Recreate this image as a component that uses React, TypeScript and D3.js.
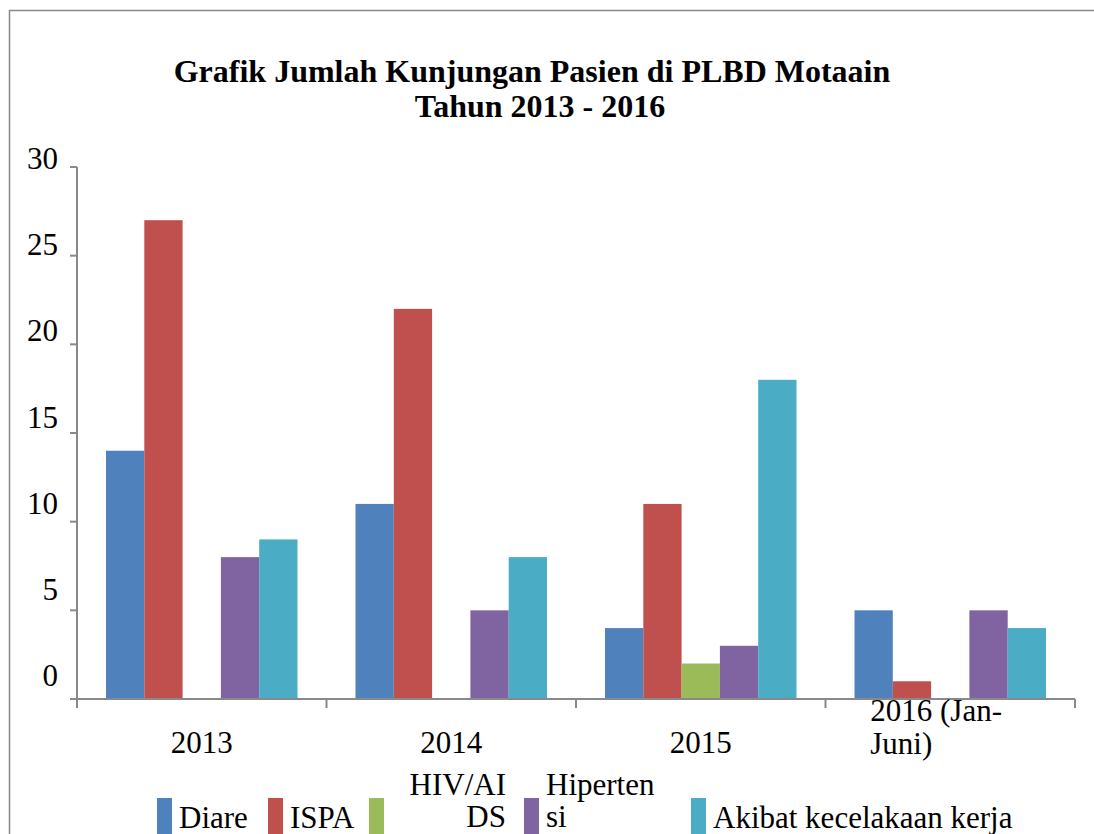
import React from 'react';
import * as d3 from 'd3';

// categories (wrapped as in the original labels)
const categories = ['2013', '2014', '2015', '2016 (Jan-Juni)'];
const categoryLines = [['2013'], ['2014'], ['2015'], ['2016 (Jan-', 'Juni)']];

const seriesNames = ['Diare', 'ISPA', 'HIV/AIDS', 'Hipertensi', 'Akibat kecelakaan kerja'];
const legendLines = [['Diare'], ['ISPA'], ['HIV/AI', 'DS'], ['Hiperten', 'si'], ['Akibat kecelakaan kerja']];
const seriesColors = ['#4F81BD', '#C0504D', '#9BBB59', '#8064A2', '#4BACC6'];

const diare = [14, 11, 4, 5];
const ispa = [27, 22, 11, 1];
const hivAids = [0, 0, 2, 0];
const hipertensi = [8, 5, 3, 5];
const kecelakaan = [9, 8, 18, 4];
const seriesValues = [diare, ispa, hivAids, hipertensi, kecelakaan];

const yTicks = [0, 5, 10, 15, 20, 25, 30];

const titleLines = ['Grafik Jumlah Kunjungan Pasien di PLBD Motaain', 'Tahun 2013 - 2016'];

const W = 1094;
const H = 834;
const FONT = '"Liberation Serif", "Times New Roman", serif';
const AXIS = '#898989';

export default function App() {
  const plot = { left: 77, right: 1075, top: 167, bottom: 699 };

  const x0 = d3.scaleBand<string>().domain(categories).range([plot.left, plot.right]).padding(0);
  const bw = x0.bandwidth();
  const x1 = d3.scaleBand<string>().domain(seriesNames).range([29, bw - 29]).padding(0);
  const y = d3.scaleLinear().domain([0, 30]).range([plot.bottom, plot.top]);
  // the label column in the source sits on a slightly tighter spacing than the ticks
  const yLabel = d3.scaleLinear().domain([0, 30]).range([686, 169]);

  const legendSwatchX = [157, 268, 369, 524, 691];

  return (
    <svg width={W} height={H} style={{ position: 'absolute', left: 0, top: 0, background: '#fff' }} fontFamily={FONT}>
      <rect x={9.5} y={10.5} width={1200} height={900} fill="#fff" stroke={AXIS} strokeWidth={1.5} />

      {/* title */}
      <text x={532} y={82} textAnchor="middle" fontSize={32} fontWeight="bold" fill="#000">{titleLines[0]}</text>
      <text x={540} y={117} textAnchor="middle" fontSize={32} fontWeight="bold" fill="#000">{titleLines[1]}</text>

      {/* bars */}
      {categories.map((c, ci) => (
        <g key={c}>
          {seriesNames.map((s, si) => {
            const v = seriesValues[si][ci];
            if (!v) return null;
            return (
              <rect key={s} x={(x0(c) ?? 0) + (x1(s) ?? 0)} y={y(v)} width={x1.bandwidth()} height={y(0) - y(v)} fill={seriesColors[si]} />
            );
          })}
        </g>
      ))}

      {/* y axis */}
      <line x1={plot.left} x2={plot.left} y1={y(30)} y2={y(0) + 9} stroke={AXIS} strokeWidth={2} />
      {yTicks.map(t => (
        <g key={t}>
          <line x1={plot.left - 7} x2={plot.left} y1={y(t)} y2={y(t)} stroke={AXIS} strokeWidth={2} />
          <text x={58} y={yLabel(t)} textAnchor="end" fontSize={31} fill="#000">{t}</text>
        </g>
      ))}

      {/* x axis */}
      <line x1={plot.left - 6} x2={plot.right} y1={y(0)} y2={y(0)} stroke={AXIS} strokeWidth={2} />
      {categories.map(c => (
        <line key={c} x1={(x0(c) ?? 0) + bw} x2={(x0(c) ?? 0) + bw} y1={y(0)} y2={y(0) + 9} stroke={AXIS} strokeWidth={2} />
      ))}
      {categories.map((c, ci) => {
        const cx = (x0(c) ?? 0) + bw / 2;
        const lines = categoryLines[ci];
        if (lines.length === 1) {
          return <text key={c} x={cx} y={753} textAnchor="middle" fontSize={31} fill="#000">{lines[0]}</text>;
        }
        return (
          <text key={c} x={cx - 80} y={721} textAnchor="start" fontSize={31} fill="#000">
            {lines.map((l, li) => (
              <tspan key={li} x={cx - 80} y={721 + li * 33}>{l}</tspan>
            ))}
          </text>
        );
      })}

      {/* legend */}
      {seriesNames.map((s, si) => {
        const sx = legendSwatchX[si];
        const lines = legendLines[si];
        const rightAligned = si === 2;
        const tx = rightAligned ? sx + 137 : sx + 22;
        const baseY = lines.length === 1 ? 828 : 795;
        return (
          <g key={s}>
            <rect x={sx} y={798} width={15} height={40} fill={seriesColors[si]} />
            <text fontSize={31} fill="#000" textAnchor={rightAligned ? 'end' : 'start'}>
              {lines.map((l, li) => (
                <tspan key={li} x={tx} y={baseY + li * 32}>{l}</tspan>
              ))}
            </text>
          </g>
        );
      })}
    </svg>
  );
}
